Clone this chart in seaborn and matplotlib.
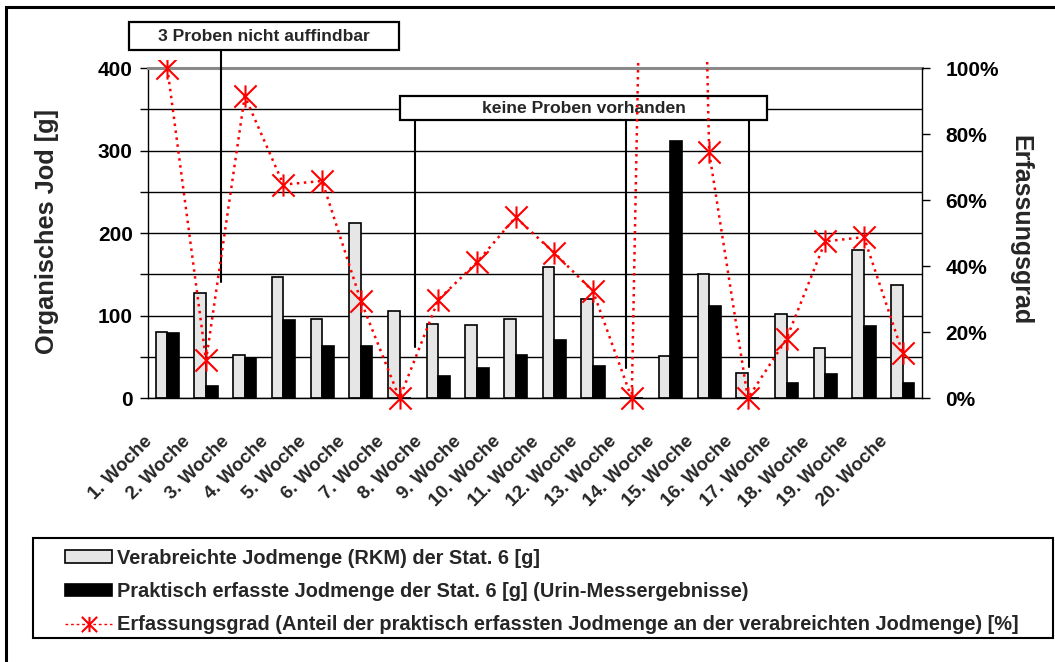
import numpy as np
import pandas as pd
import matplotlib
matplotlib.use("Agg")
import matplotlib.pyplot as plt
import seaborn as sns
from matplotlib.path import Path
from matplotlib.patches import Rectangle, Patch
from matplotlib.lines import Line2D
from matplotlib.transforms import ScaledTranslation, Bbox, TransformedBbox

# ---- data -------------------------------------------------------------
weeks = ["1. Woche", "2. Woche", "3. Woche", "4. Woche", "5. Woche",
         "6. Woche", "7. Woche", "8. Woche", "9. Woche", "10. Woche",
         "11. Woche", "12. Woche", "13. Woche", "14. Woche", "15. Woche",
         "16. Woche", "17. Woche", "18. Woche", "19. Woche", "20. Woche"]

# administered iodine (RKM), station 6 [g]
verabreicht = [80, 128, 53, 146.5, 96, 212, 106, 89.5, 89, 96,
               158.5, 120, 0, 51, 150, 31, 102, 60.5, 179, 137]
# iodine recovered in urine, station 6 [g]
erfasst = [79, 15, 48.5, 94.5, 63, 63, 0, 27, 37, 53,
           70, 39, 0, 312, 111.5, 0, 18.5, 29, 87.5, 19]
# recovery rate [%]
erfassungsgrad = [100, 11.5, 91.5, 64.7, 65.8, 29.5, 0, 29.8, 41.2, 54.8,
                  44, 32.4, 0, 612, 74.5, 0, 18, 47.5, 48.8, 13.7]

series_names = ["Verabreichte Jodmenge (RKM) der Stat. 6 [g]",
                "Praktisch erfasste Jodmenge der Stat. 6 [g] (Urin-Messergebnisse)"]
line_name = ("Erfassungsgrad (Anteil der praktisch erfassten Jodmenge "
             "an der verabreichten Jodmenge) [%]")

left_ticks = [0, 50, 100, 150, 200, 250, 300, 350, 400]
right_ticks = [0, 20, 40, 60, 80, 100]

# ---- style --------------------------------------------------------------
sns.set_style("white")
plt.rcParams["font.family"] = ["Liberation Sans", "DejaVu Sans"]
plt.rcParams["font.weight"] = "bold"

W, H = 1055, 662
fig = plt.figure(figsize=(W / 100, H / 100), dpi=100)
fig.patch.set_facecolor("white")

px_l, px_r, px_b, px_t = 148, 922, 398.3, 68
ax = fig.add_axes([px_l / W, 1 - px_b / H, (px_r - px_l) / W, (px_b - px_t) / H])

# ---- bars ---------------------------------------------------------------
df = pd.DataFrame({
    "Woche": weeks * 2,
    "Jod": verabreicht + erfasst,
    "Reihe": [series_names[0]] * len(weeks) + [series_names[1]] * len(weeks),
})
sns.barplot(data=df, x="Woche", y="Jod", hue="Reihe", order=weeks,
            hue_order=series_names, palette=["#E6E6E6", "#000000"],
            saturation=1, width=0.6, gap=0, edgecolor="black", linewidth=1.2,
            errorbar=None, legend=False, ax=ax)

ax.set_xlim(-0.5, len(weeks) - 0.5)
ax.set_ylim(0, 400)
ax.set_xlabel("")
ax.set_ylabel("")
ax.set_yticks(left_ticks)
ax.set_yticklabels([str(v) if v % 100 == 0 else "" for v in left_ticks],
                   fontsize=15, fontweight="bold")
ax.yaxis.grid(True, color="black", lw=1)
ax.set_axisbelow(True)
ax.tick_params(axis="y", direction="out", length=6, width=1, pad=5,
               colors="black")

ax.set_xticks(range(len(weeks)))
ax.set_xticklabels(weeks, rotation=45, ha="right", va="top",
                   rotation_mode="anchor", fontsize=13.5, fontweight="bold")
ax.tick_params(axis="x", which="major", length=0, pad=25)
ax.set_xticks(np.arange(-0.5, len(weeks), 1), minor=True)
ax.tick_params(axis="x", which="minor", direction="out", length=5, width=1)
shift = ScaledTranslation(-24 / 100, 0, fig.dpi_scale_trans)
for lab in ax.get_xticklabels():
    lab.set_transform(lab.get_transform() + shift)

for side in ("left", "bottom"):
    ax.spines[side].set_color("black")
    ax.spines[side].set_linewidth(1)
ax.spines["top"].set_color("#8a8a8a")
ax.spines["top"].set_linewidth(2.2)
ax.spines["right"].set_visible(False)

# ---- annotation boxes ---------------------------------------------------
notes = [
    ("3 Proben nicht auffindbar", (-0.983, 421.4, 5.986, 455.3), [(1.379, 140.8)]),
    ("keine Proben vorhanden", (6.01, 337.0, 15.495, 366.0),
     [(6.40, 62.5), (11.85, 36.7), (15.03, 38.3)]),
]
for text, (x0, y0, x1, y1), pointers in notes:
    for xp, yp in pointers:
        ax.plot([xp, xp], [y0, yp], color="black", lw=1.5, clip_on=False,
                zorder=3)
    ax.add_patch(Rectangle((x0, y0), x1 - x0, y1 - y0, facecolor="white",
                           edgecolor="black", lw=1.6, clip_on=False, zorder=4))
    ax.text((x0 + x1) / 2, (y0 + y1) / 2, text, ha="center", va="center",
            fontsize=12.6, fontweight="bold", zorder=5, clip_on=False)

# ---- recovery-rate line -------------------------------------------------
star = Path([(-1, -1), (1, 1), (-1, 1), (1, -1), (0, -1), (0, 1)],
            [Path.MOVETO, Path.LINETO] * 3)

ax2 = ax.twinx()
sns.lineplot(x=np.arange(len(weeks)), y=erfassungsgrad, ax=ax2, color="red",
             lw=1.8, linestyle=(0, (1, 1.8)), marker=star, markersize=16,
             markeredgecolor="red", markerfacecolor="none",
             markeredgewidth=1.5)
ax2.set_xlim(-0.5, len(weeks) - 0.5)
ax2.set_ylim(0, 100)
ax2.set_yticks(right_ticks)
ax2.set_yticklabels([f"{v}%" for v in right_ticks], fontsize=15,
                    fontweight="bold")
ax2.tick_params(axis="y", direction="out", length=6, width=1, pad=11,
                colors="black")
for side in ("left", "top", "bottom"):
    ax2.spines[side].set_visible(False)
ax2.spines["right"].set_color("black")
ax2.spines["right"].set_linewidth(1)
clip = TransformedBbox(Bbox([[-0.05, -0.1], [1.05, 1 + 8 / 330.3]]),
                       ax2.transAxes)
for ln in ax2.lines:
    ln.set_clip_box(clip)

# ---- axis titles --------------------------------------------------------
fig.text(47 / W, 1 - 232 / H, "Organisches Jod [g]", rotation=90,
         ha="center", va="center", fontsize=18.3, fontweight="bold")
fig.text(1020 / W, 1 - 230 / H, "Erfassungsgrad", rotation=270,
         ha="center", va="center", fontsize=18, fontweight="bold")

# ---- legend -------------------------------------------------------------
handles = [
    Patch(facecolor="#E6E6E6", edgecolor="black", lw=1.2),
    Patch(facecolor="black", edgecolor="black", lw=1.2),
    Line2D([], [], color="red", lw=1, linestyle=(0, (2, 2)), marker=star,
           markersize=11, markeredgecolor="red", markeredgewidth=1.5),
]
fig.legend(handles, series_names + [line_name], loc="upper left",
           bbox_to_anchor=(65 / W, 1 - 548.5 / H), frameon=False,
           borderpad=0, borderaxespad=0, handlelength=2.36,
           handleheight=0.6, handletextpad=0.25, labelspacing=0.72,
           prop={"weight": "bold", "size": 14.4})
fig.add_artist(Rectangle((32.7 / W, 1 - 638.3 / H), (1053 - 32.7) / W,
                         (638.3 - 537.7) / H, transform=fig.transFigure,
                         fill=False, lw=1.5, edgecolor="black"))

# outer frame of the figure
fig.add_artist(Rectangle((6 / W, -0.1), 1.2, 1.1 - 6.5 / H,
                         transform=fig.transFigure, fill=False, lw=2.2,
                         edgecolor="black"))

fig.savefig("out.png", dpi=100)
